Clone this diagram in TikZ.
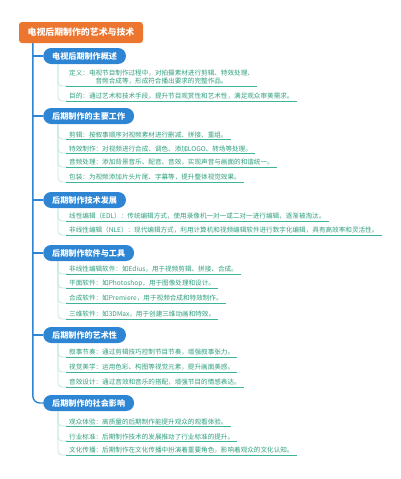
\documentclass[tikz,border=0pt]{standalone}
\usepackage{fontspec}
\setmainfont{Noto Sans CJK SC}
\definecolor{rootorange}{HTML}{EC7530}
\definecolor{pillblue}{HTML}{2D85D3}
\definecolor{itemtext}{HTML}{2E9E7E}
\definecolor{itemline}{HTML}{3DB39A}
\definecolor{sublight}{HTML}{C3E6DE}
\tikzset{
  root/.style={fill=rootorange, rounded corners=3pt, text=white, font=\fontsize{8.9}{10}\selectfont\bfseries,
    minimum width=124pt, minimum height=21pt, inner sep=0pt},
  pill/.style={fill=pillblue, rounded corners=8pt, text=white, font=\fontsize{8.1}{9}\selectfont\bfseries,
    minimum height=16pt, inner xsep=9pt, inner ysep=0pt, anchor=west},
  item/.style={text=itemtext, font=\fontsize{6.6}{8}\selectfont, align=center, anchor=south west,
    inner xsep=3pt, inner ysep=1.2pt},
  mainlink/.style={draw=pillblue, line width=1.4pt, rounded corners=7pt},
  sublink/.style={draw=sublight, line width=0.8pt, rounded corners=4pt},
  uline/.style={draw=itemline, line width=0.9pt}
}

\begin{document}
\begin{tikzpicture}[x=1pt,y=-1pt]
  \useasboundingbox (0,0) rectangle (400,479);
  \node[root] (root) at (81,32.5) {电视后期制作的艺术与技术};

  \node[pill] (b1) at (43,56)  {电视后期制作概述};
  \node[pill] (b2) at (43,116) {后期制作的主要工作};
  \node[pill] (b3) at (43,200) {后期制作技术发展};
  \node[pill] (b4) at (43,253) {后期制作软件与工具};
  \node[pill] (b5) at (43,335) {后期制作的艺术性};
  \node[pill] (b6) at (43,403) {后期制作的社会影响};

  % trunk
  \draw[mainlink] ([xshift=14pt]root.south west) |- (b6.west);
  \draw[mainlink, rounded corners=0pt] (33,56)  -- (b1.west);
  \draw[mainlink, rounded corners=0pt] (33,116) -- (b2.west);
  \draw[mainlink, rounded corners=0pt] (33,200) -- (b3.west);
  \draw[mainlink, rounded corners=0pt] (33,253) -- (b4.west);
  \draw[mainlink, rounded corners=0pt] (33,335) -- (b5.west);

  % overview
  \node[item] (a1) at (66,86)  {定义：电视节目制作过程中，对拍摄素材进行剪辑、特效处理、\\音频合成等，形成符合播出要求的完整作品。};
  \node[item] (a2) at (66,101) {目的：通过艺术和技术手段，提升节目观赏性和艺术性，满足观众审美需求。};

  % main work
  \node[item] (c1) at (66,139) {剪辑：按叙事顺序对视频素材进行删减、拼接、重组。};
  \node[item] (c2) at (66,153) {特效制作：对视频进行合成、调色、添加LOGO、转场等处理。};
  \node[item] (c3) at (66,167) {音频处理：添加背景音乐、配音、音效，实现声音与画面的和谐统一。};
  \node[item] (c4) at (66,182) {包装：为视频添加片头片尾、字幕等，提升整体视觉效果。};

  % technology
  \node[item] (d1) at (66,221) {线性编辑（EDL）：传统编辑方式，使用录像机一对一或二对一进行编辑，逐渐被淘汰。};
  \node[item] (d2) at (66,235) {非线性编辑（NLE）：现代编辑方式，利用计算机和视频编辑软件进行数字化编辑，具有高效率和灵活性。};

  % software
  \node[item] (e1) at (66,274) {非线性编辑软件：如Edius，用于视频剪辑、拼接、合成。};
  \node[item] (e2) at (66,288) {平面软件：如Photoshop，用于图像处理和设计。};
  \node[item] (e3) at (66,303) {合成软件：如Premiere，用于视频合成和特效制作。};
  \node[item] (e4) at (66,319) {三维软件：如3DMax，用于创建三维动画和特效。};

  % art
  \node[item] (f1) at (66,357) {叙事节奏：通过剪辑技巧控制节目节奏，增强叙事张力。};
  \node[item] (f2) at (66,372) {视觉美学：运用色彩、构图等视觉元素，提升画面美感。};
  \node[item] (f3) at (66,387) {音效设计：通过音效和音乐的搭配，增强节目的情感表达。};

  % society
  \node[item] (g1) at (66,426) {观众体验：高质量的后期制作能提升观众的观看体验。};
  \node[item] (g2) at (66,441) {行业标准：后期制作技术的发展推动了行业标准的提升。};
  \node[item] (g3) at (66,455) {文化传播：后期制作在文化传播中扮演着重要角色，影响着观众的文化认知。};

  % sub connectors and underlines
  \foreach \p/\list in {b1/{a1,a2}, b2/{c1,c2,c3,c4}, b3/{d1,d2}, b4/{e1,e2,e3,e4}, b5/{f1,f2,f3}, b6/{g1,g2,g3}}
    \foreach \q in \list {
      \draw[sublink] ([xshift=15pt]\p.south west) |- ([xshift=2pt]\q.south west);
      \draw[uline] (\q.south west) -- (\q.south east);
    };
\end{tikzpicture}
\end{document}
